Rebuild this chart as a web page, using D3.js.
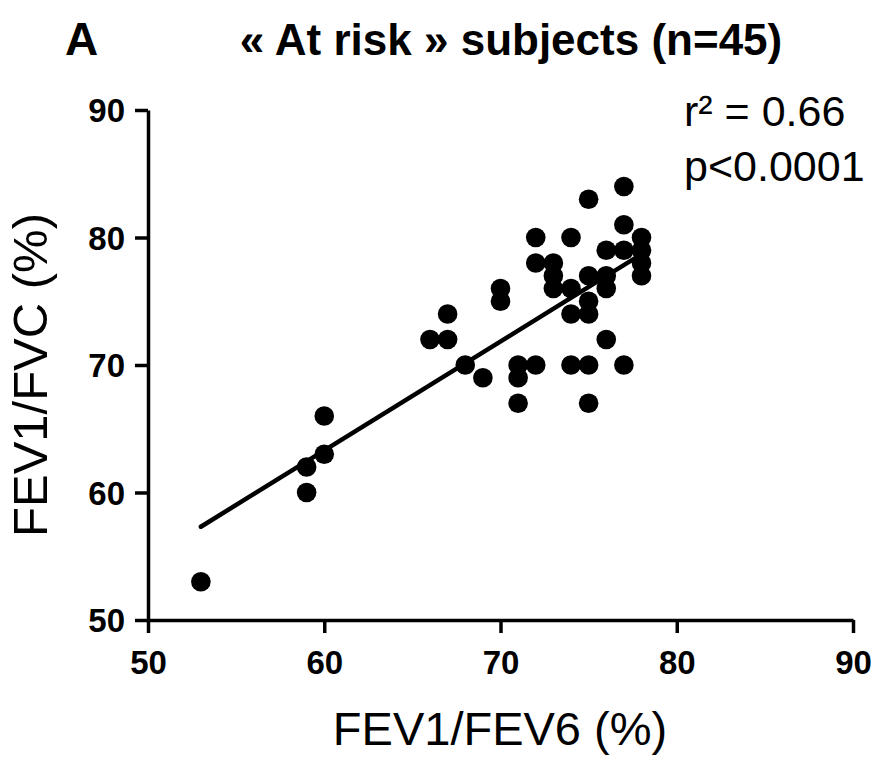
<!DOCTYPE html>
<html>
<head>
<meta charset="utf-8">
<script src="https://cdn.jsdelivr.net/npm/d3@7"></script>
<style>
  html, body { margin: 0; padding: 0; background: #fff; }
  svg { display: block; }
  text { font-family: "Liberation Sans", Arial, sans-serif; fill: #000; }
</style>
</head>
<body>
<svg id="chart" width="876" height="764"></svg>
<script>
// FEV1/FEV6 (%) per subject
const fev1Fev6 = [53, 59, 59, 60, 60, 66, 67, 67, 68, 69, 70, 70, 71, 71, 71, 72, 72, 72,
  73, 73, 73, 74, 74, 74, 74, 75, 75, 75, 75, 75, 75, 76, 76, 76, 76, 77, 77, 77, 77,
  78, 78, 78, 78];
// FEV1/FVC (%) per subject, same order
const fev1Fvc = [53, 60, 62, 63, 66, 72, 72, 74, 70, 69, 75, 76, 70, 69, 67, 70, 80, 78,
  78, 77, 76, 80, 76, 74, 70, 83, 77, 75, 74, 70, 67, 79, 77, 76, 72, 84, 81, 79, 70,
  80, 79, 78, 77];

// Linear regression line
const fitSlope = 0.855;
const fitIntercept = 12.0;

const axisDomain = [50, 90];
const tickValues = [50, 60, 70, 80, 90];

const titleText = "\u00AB At risk \u00BB subjects (n=45)";
const panelLabel = "A";
const statLines = ["r\u00B2 = 0.66", "p<0.0001"];
const xTitle = "FEV1/FEV6 (%)";
const yTitle = "FEV1/FVC (%)";

const svg = d3.select("#chart");

const x = d3.scaleLinear().domain(axisDomain).range([148, 853]);
const y = d3.scaleLinear().domain(axisDomain).range([620, 110]);

const points = fev1Fev6.map((v, i) => ({ x: v, y: fev1Fvc[i] }));

// Axes
const xAxis = svg.append("g")
  .attr("transform", `translate(0,${y(50)})`)
  .call(d3.axisBottom(x).tickValues(tickValues).tickSize(13).tickSizeOuter(0).tickPadding(8));
const yAxis = svg.append("g")
  .attr("transform", `translate(${x(50)},0)`)
  .call(d3.axisLeft(y).tickValues(tickValues).tickSize(13).tickSizeOuter(0).tickPadding(10));

[xAxis, yAxis].forEach(g => {
  g.select(".domain").attr("stroke", "#000").attr("stroke-width", 3.5);
  g.selectAll(".tick line").attr("stroke", "#000").attr("stroke-width", 3.5);
  g.selectAll(".tick text")
    .attr("fill", "#000")
    .style("font-family", "'Liberation Sans', Arial, sans-serif")
    .style("font-size", "33px")
    .style("font-weight", "bold");
});
xAxis.selectAll(".tick text").attr("dy", "1.0em");
yAxis.selectAll(".tick text").attr("dy", "0.36em");

// Regression line across the data range
const [xMin, xMax] = d3.extent(fev1Fev6);
svg.append("line")
  .attr("x1", x(xMin)).attr("y1", y(fitSlope * xMin + fitIntercept))
  .attr("x2", x(xMax)).attr("y2", y(fitSlope * xMax + fitIntercept))
  .attr("stroke", "#000").attr("stroke-width", 4.5).attr("stroke-linecap", "round");

// Subjects
svg.append("g").selectAll("circle")
  .data(points)
  .join("circle")
  .attr("cx", d => x(d.x))
  .attr("cy", d => y(d.y))
  .attr("r", 9.8)
  .attr("fill", "#000");

// Titles and annotations
svg.append("text")
  .attr("x", 65).attr("y", 55)
  .style("font-size", "46px").style("font-weight", "bold")
  .text(panelLabel);

svg.append("text")
  .attr("x", 511).attr("y", 55)
  .attr("text-anchor", "middle")
  .style("font-size", "44px").style("font-weight", "bold")
  .text(titleText);

svg.append("g").selectAll("text")
  .data(statLines)
  .join("text")
  .attr("x", 684)
  .attr("y", (d, i) => 126 + i * 55)
  .style("font-size", "43px")
  .text(d => d);

svg.append("text")
  .attr("x", 500).attr("y", 745)
  .attr("text-anchor", "middle")
  .style("font-size", "47px")
  .text(xTitle);

svg.append("text")
  .attr("transform", "translate(47,375) rotate(-90)")
  .attr("text-anchor", "middle")
  .style("font-size", "49px")
  .text(yTitle);
</script>
</body>
</html>
